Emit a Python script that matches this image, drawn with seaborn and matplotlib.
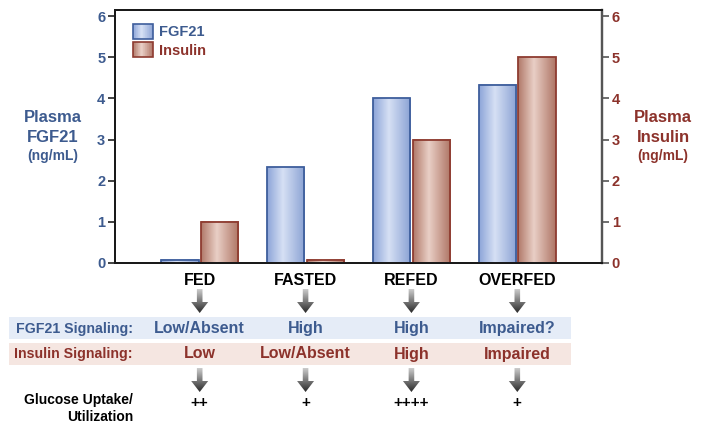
import numpy as np
import pandas as pd
import matplotlib
matplotlib.use("Agg")
import matplotlib.pyplot as plt
import matplotlib.transforms as mtransforms
from matplotlib.colors import LinearSegmentedColormap
from matplotlib.patches import Rectangle, Polygon
from matplotlib.legend_handler import HandlerBase
import seaborn as sns

# ---------------- data ----------------
categories = ["FED", "FASTED", "REFED", "OVERFED"]
series = ["FGF21", "Insulin"]
fgf21 = [0.08, 2.33, 4.0, 4.33]
insulin = [1.0, 0.08, 3.0, 5.0]
yticks = [0, 1, 2, 3, 4, 5, 6]
fgf21_signaling = ["Low/Absent", "High", "High", "Impaired?"]
insulin_signaling = ["Low", "Low/Absent", "High", "Impaired"]
glucose_uptake = ["++", "+", "++++", "+"]

df = pd.DataFrame({
    "state": categories * 2,
    "value": fgf21 + insulin,
    "hormone": [series[0]] * len(fgf21) + [series[1]] * len(insulin),
})

# ---------------- style ----------------
BLUE_TXT = "#3D5B8F"
RED_TXT = "#8C322B"
BLUE_EDGE = "#3E5E9C"
RED_EDGE = "#8E3B30"
blue_cmap = LinearSegmentedColormap.from_list(
    "b", [(0, "#8CA4D8"), (0.42, "#D6E0F4"), (1, "#8AA2D4")])
red_cmap = LinearSegmentedColormap.from_list(
    "r", [(0, "#B07868"), (0.42, "#E9CFC6"), (1, "#AE7464")])
arrow_cmap = LinearSegmentedColormap.from_list(
    "a", [(0, "#C9C9C9"), (0.5, "#7A7A7A"), (1, "#2B2B2B")])

sns.set_theme(style="white")
plt.rcParams["font.family"] = ["Liberation Sans", "DejaVu Sans"]

fig = plt.figure(figsize=(7.01, 4.29), dpi=100)
W, H = 701, 429
ax = fig.add_axes([115 / W, 1 - 263 / H, (602 - 115) / W, (263 - 10) / H])

sns.barplot(data=df, x="state", y="value", hue="hormone", order=categories,
            hue_order=series, palette=["#AFC2E8", "#CFA497"], saturation=1,
            width=0.75, gap=0.06, legend=False, ax=ax)

grad = np.linspace(0, 1, 256).reshape(1, -1)
for cont, cmap, edge in zip(ax.containers, [blue_cmap, red_cmap], [BLUE_EDGE, RED_EDGE]):
    for bar in cont:
        x0, y0 = bar.get_x(), bar.get_y()
        w, h = bar.get_width(), bar.get_height()
        ax.imshow(grad, extent=[x0, x0 + w, y0, y0 + h], aspect="auto",
                  cmap=cmap, zorder=2, interpolation="bilinear")
        bar.set_facecolor("none")
        bar.set_edgecolor(edge)
        bar.set_linewidth(1.3)
        bar.set_zorder(3)

ax.set_xlim(-0.8, 3.8)
ax.set_ylim(0, 6.15)
ax.set_yticks(yticks)
ax.set_xlabel("")
ax.set_ylabel("")
ax.tick_params(axis="x", length=0, pad=7, labelsize=11.5)
for t in ax.get_xticklabels():
    t.set_fontweight("bold")
    t.set_color("black")
ax.tick_params(axis="y", left=True, length=5, width=1.2, color="#222222",
               labelsize=10.5, labelcolor=BLUE_TXT, pad=2)
for t in ax.get_yticklabels():
    t.set_fontweight("bold")

ax2 = ax.twinx()
ax2.set_ylim(0, 6.15)
ax2.set_yticks(yticks)
ax2.tick_params(axis="y", right=True, length=5, width=1.2, color="#555555",
                labelsize=10.5, labelcolor=RED_TXT, pad=2)
for t in ax2.get_yticklabels():
    t.set_fontweight("bold")
ax2.grid(False)

for a in (ax, ax2):
    for s in ["left", "top", "bottom"]:
        a.spines[s].set_color("#1a1a1a")
        a.spines[s].set_linewidth(1.4)
    a.spines["right"].set_color("#555555")
    a.spines["right"].set_linewidth(1.6)


# ---------------- legend with gradient swatches ----------------
class GradHandler(HandlerBase):
    def __init__(self, cmap, edge):
        super().__init__()
        self.cmap = cmap
        self.edge = edge

    def create_artists(self, legend, orig_handle, xdescent, ydescent, width,
                       height, fontsize, trans):
        arts = []
        n = 30
        for i in range(n):
            arts.append(Rectangle((-xdescent + width * i / n, -ydescent),
                                  width / n * 1.1, height,
                                  facecolor=self.cmap((i + 0.5) / n),
                                  edgecolor="none", transform=trans))
        arts.append(Rectangle((-xdescent, -ydescent), width, height,
                              facecolor="none", edgecolor=self.edge, lw=1.2,
                              transform=trans))
        return arts


h1 = Rectangle((0, 0), 1, 1)
h2 = Rectangle((0, 0), 1, 1)
leg = ax.legend([h1, h2], series, loc="upper left",
                bbox_to_anchor=((133 - 115) / 487, 1 - 14 / 253),
                frameon=False, borderpad=0, borderaxespad=0,
                handlelength=1.4, handleheight=1.2, handletextpad=0.35,
                labelspacing=0.2, prop={"weight": "bold", "size": 10.5},
                handler_map={h1: GradHandler(blue_cmap, BLUE_EDGE),
                             h2: GradHandler(red_cmap, RED_EDGE)})
for t, c in zip(leg.get_texts(), [BLUE_TXT, RED_TXT]):
    t.set_color(c)

# ---------------- axis titles ----------------
for x, col, name in [(53, BLUE_TXT, "FGF21"), (663, RED_TXT, "Insulin")]:
    fig.text(x / W, 1 - 117 / H, "Plasma", ha="center", va="center",
             color=col, fontsize=12, fontweight="bold")
    fig.text(x / W, 1 - 137 / H, name, ha="center", va="center",
             color=col, fontsize=12, fontweight="bold")
    fig.text(x / W, 1 - 156 / H, "(ng/mL)", ha="center", va="center",
             color=col, fontsize=10, fontweight="bold")

# ---------------- lower table ----------------
bt = mtransforms.blended_transform_factory(ax.transData, fig.transFigure)

fig.patches.append(Rectangle((9 / W, 1 - 339 / H), (571 - 9) / W, 22 / H,
                             transform=fig.transFigure, facecolor="#E5ECF7",
                             edgecolor="none", zorder=-5))
fig.patches.append(Rectangle((9 / W, 1 - 365 / H), (571 - 9) / W, 22 / H,
                             transform=fig.transFigure, facecolor="#F5E6E1",
                             edgecolor="none", zorder=-5))

fig.text(133 / W, 1 - 328.5 / H, "FGF21 Signaling:", ha="right", va="center",
         color=BLUE_TXT, fontsize=10.2, fontweight="bold", zorder=5)
fig.text(133 / W, 1 - 354 / H, "Insulin Signaling:", ha="right", va="center",
         color=RED_TXT, fontsize=10.2, fontweight="bold", zorder=5)
fig.text(133 / W, 1 - 400 / H, "Glucose Uptake/", ha="right", va="center",
         color="black", fontsize=10, fontweight="bold", zorder=5)
fig.text(133 / W, 1 - 417 / H, "Utilization", ha="right", va="center",
         color="black", fontsize=10, fontweight="bold", zorder=5)

# arrow shape in pixels relative to top-centre
arrow_xy = np.array([[-2.8, 0], [2.8, 0], [2.8, -13], [8.5, -13], [0, -24],
                     [-8.5, -13], [-2.8, -13]])
n_strips = 24

for i, cat in enumerate(categories):
    fig.text(0, 1 - 328.5 / H, fgf21_signaling[i], transform=bt, ha="center",
             va="center", color=BLUE_TXT, fontsize=11.5, fontweight="bold",
             zorder=5)
    fig.text(0, 1 - 354 / H, insulin_signaling[i], transform=bt, ha="center",
             va="center", color=RED_TXT, fontsize=11.5, fontweight="bold",
             zorder=5)
    fig.text(0, 1 - 403 / H, glucose_uptake[i], transform=bt, ha="center",
             va="center", color="black", fontsize=11, fontweight="bold",
             zorder=5)
    for t in fig.texts[-3:]:
        t.set_x(i)
    for ytop in (289, 368):
        tr = mtransforms.ScaledTranslation(i, 1 - ytop / H, bt)
        poly = Polygon(arrow_xy, closed=True, transform=tr,
                       facecolor="none", edgecolor="none")
        fig.add_artist(poly)
        for k in range(n_strips):
            y_hi = -24 * k / n_strips
            strip = Rectangle((-9, y_hi - 24 / n_strips - 0.3), 18,
                              24 / n_strips + 0.6, transform=tr,
                              facecolor=arrow_cmap(k / (n_strips - 1)),
                              edgecolor="none", zorder=4)
            strip.set_clip_path(poly)
            fig.add_artist(strip)

fig.savefig("out.png", dpi=100)
